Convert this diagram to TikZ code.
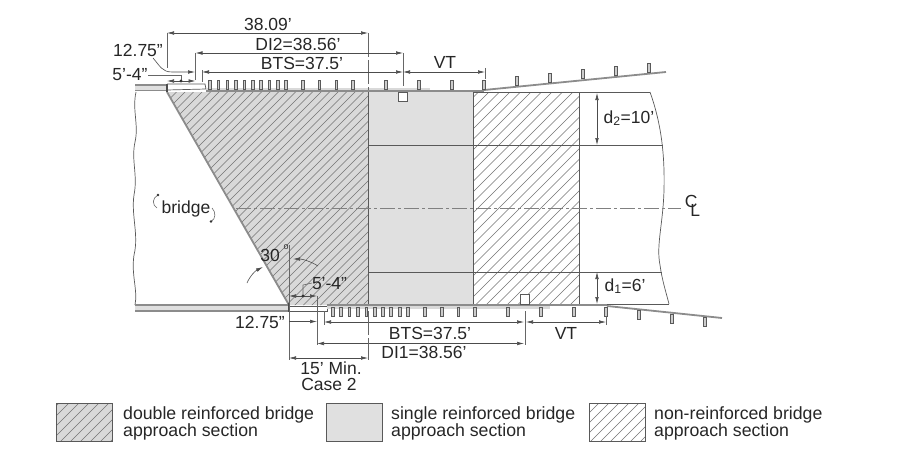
\documentclass[tikz,border=0pt]{standalone}
\usepackage{fontspec}
\setmainfont{Liberation Sans}
\usepackage{tikz}
\usetikzlibrary{arrows.meta}
\definecolor{linegray}{gray}{0.35}
\definecolor{hatchgray}{gray}{0.45}
\definecolor{doublefill}{gray}{0.85}
\definecolor{singlefill}{gray}{0.88}
\tikzset{
    outline/.style={draw=linegray, line width=0.9pt},
    thinline/.style={draw=linegray, line width=0.7pt},
    beamline/.style={draw=gray!90, line width=1.8pt},
    hatchline/.style={draw=hatchgray, line width=0.6pt},
    dimline/.style={{Latex[length=7pt,width=3.6pt]}-{Latex[length=7pt,width=3.6pt]}, draw=black!70, line width=0.6pt},
    dimend/.style={-{Latex[length=7pt,width=3.6pt]}, draw=black!70, line width=0.6pt},
    extline/.style={draw=black!60, line width=0.6pt},
    centerline/.style={draw=black!50, line width=0.6pt, dash pattern=on 15pt off 3pt on 3pt off 3pt},
    post/.style={draw=black!65, fill=gray!40, line width=0.6pt, minimum width=2.6pt, minimum height=9pt, inner sep=0pt},
    dimtext/.style={font=\fontsize{17.5}{17}\selectfont, text=black!85, inner sep=0pt},
    legendtext/.style={dimtext, align=left, anchor=west, font=\fontsize{17.7}{17}\selectfont}
}
\begin{document}
\begin{tikzpicture}[x=1pt,y=-1pt]
    \useasboundingbox (0,0) rectangle (915,452);
    % reinforced sections
    \fill[doublefill] (167,92) -- (368,92) -- (368,305) -- (289,305) -- cycle;
    \begin{scope}
      \clip (167,92) -- (368,92) -- (368,305) -- (289,305) -- cycle;
      \foreach \c in {260,268.5,...,680} \draw[hatchline] (\c,0) -- (0,\c);
    \end{scope}
    \fill[singlefill] (368,92) rectangle (473,305);
    \begin{scope}
      \clip (473,92) rectangle (579,305);
      \foreach \c in {560,570.5,...,890} \draw[hatchline] (\c,0) -- (0,\c);
    \end{scope}
    \draw[beamline] (167,92) -- (289,305);
    \draw[thinline] (368,92) -- (368,305);
    \draw[thinline] (473,92) -- (473,305);
    \draw[thinline] (579,92) -- (579,305);
    \draw[thinline] (368,145) -- (663,145);
    \draw[thinline] (368,272) -- (662,272);
    \draw[thinline] (473,92) -- (650,92);
    \draw[thinline] (473,304) -- (669,304);
    % cut lines
    \draw[thinline] (650,92) .. controls (660,120) and (665,150) .. (664,190) .. controls (663,225) and (656,245) .. (660,265) .. controls (662,280) and (666,292) .. (669,304);
    \draw[thinline] (136,92) .. controls (132,110) and (139,125) .. (135,142) .. controls (131,160) and (138,175) .. (134,195) .. controls (131,215) and (139,235) .. (134,255) .. controls (131,275) and (138,290) .. (135,305);
    \draw[centerline] (236,208) -- (681,208);
    \draw (692.5,206) node[dimtext] (centerlabel) {C\kern-0.42em\raisebox{-0.5em}{L}};
    % top barrier
    \fill[gray!25] (135,85) rectangle (167,91);
    \draw[beamline] (135,85) -- (167,85);
    \draw[beamline] (135,90.5) -- (167,90.5);
    \draw[line width=2pt, draw=black!70] (167,84) -- (167,92);
    \draw[thinline] (167,84) -- (205,84) -- (206,89) -- (167,90);
    \fill[gray!30] (206,88) rectangle (430,92);
    \draw[beamline] (206,91) -- (484,91);
    \draw[beamline] (484,90) -- (666,72);
    \foreach \x in {210,218.3,227.3,235.7,244.3,252.7,261,269.3,277.7,286,302.7,319.3,336.3,353,386,419,452,484}
      \node[post] at (\x,84.5) {};
    \foreach \x/\y in {517/81,550/77.5,583/74,616/71,649/67.5}
      \node[post] at (\x,\y) {};
    \draw[thinline, fill=white] (398,92.5) rectangle (407,101);
    % bottom barrier
    \fill[gray!25] (135,305) rectangle (289,311);
    \draw[beamline] (135,305) -- (289,305);
    \draw[beamline, line width=1.2pt] (135,311) -- (289,311);
    \draw[line width=2pt, draw=black!70] (289,303) -- (289,312);
    \draw[thinline] (289,306) -- (327,306) -- (327,311) -- (289,311);
    \fill[gray!30] (327,306) rectangle (550,309);
    \draw[beamline] (327,305) -- (607,305);
    \draw[beamline] (607,306) -- (722,318);
    \foreach \x in {332.7,341,349.3,358,366.3,374.7,383,391,400,408,425,441.7,458.3,475,507.7,540.7,574,606}
      \node[post] at (\x,311.5) {};
    \foreach \x/\y in {639/315,672/318.5,705/321.5}
      \node[post] at (\x,\y) {};
    \draw[thinline, fill=white] (520,294) rectangle (529,304);
    % top dimensions
    \draw[dimline] (167,33) -- (368,33);
    \draw[extline] (167,33) -- (167,68);
    \draw[extline, dash pattern=on 24pt off 3pt] (368,33) -- (368,90);
    \draw (268,24.5) node[dimtext] (topspan) {38.09'};
    \draw[dimline] (195.5,53) -- (403,53);
    \draw[extline] (195.5,53) -- (195.5,80);
    \draw[extline] (403,53) -- (403,86);
    \draw (298,44) node[dimtext] (ditwo) {DI2=38.56'};
    \draw[dimline] (202,72) -- (403,72);
    \draw[extline] (202,70) -- (202,82);
    \draw (302,63) node[dimtext] (btstop) {BTS=37.5'};
    \draw[dimline] (403,72) -- (485,72);
    \draw[extline] (485,68) -- (485,79);
    \draw (445,62) node[dimtext] (vttop) {VT};
    \draw (138,50.5) node[dimtext] (tiptop) {12.75''};
    \draw[dimend] (153,58) .. controls (160,66) and (162,72) .. (172,72) -- (195,72);
    \draw (130,75) node[dimtext] (slabtop) {5'-4''};
    \draw[extline] (148,75.5) -- (181,75.5) -- (181,81);
    \draw[dimline] (167,81) -- (195.5,81);
    \fill[black!80] (181,81) circle (1.6pt);
    % skew angle
    \draw[extline] (289,245) -- (289,360);
    \draw (270,255) node[dimtext] (skewlabel) {30};
    \draw (286,247) node[font=\fontsize{9}{9}\selectfont, text=black!80, inner sep=0pt] (skewdeg) {o};
    \draw[dimend] (318,266) .. controls (310,261) and (302,259) .. (293,259);
    \draw[dimend] (247,283) .. controls (250,276) and (255,271) .. (263,267);
    % bottom dimensions
    \draw (329.5,284) node[dimtext] (slabbot) {5'-4''};
    \draw[extline] (312,283) -- (303,285) -- (303,296);
    \draw[dimline] (289,296) -- (317,296);
    \fill[black!80] (303,296) circle (1.6pt);
    \draw (260,322) node[dimtext] (tipbot) {12.75''};
    \draw[dimend] (289,321.5) -- (317,321.5);
    \draw[extline] (317,296) -- (317,345);
    \draw[dimline] (324,322) -- (524,322);
    \draw[extline] (324,311) -- (324,325);
    \draw[extline] (525,311) -- (525,345);
    \draw (430,333) node[dimtext] (btsbot) {BTS=37.5'};
    \draw[dimline] (317,343.5) -- (524,343.5);
    \draw (424,352) node[dimtext] (dione) {DI1=38.56'};
    \draw[dimline] (526,322) -- (606,322);
    \draw[extline] (606,316) -- (606,325);
    \draw (566,333) node[dimtext] (vtbot) {VT};
    \draw[dimline] (289,358) -- (368,358);
    \draw[extline, dash pattern=on 24pt off 3pt] (368,311) -- (368,360);
    \draw (331,368) node[dimtext] (minlabel) {15' Min.};
    \draw (329,384.5) node[dimtext] (caselabel) {Case 2};
    % deck widths
    \draw[dimline] (597,93) -- (597,145);
    \draw (629,118) node[dimtext] (dtwo) {d\textsubscript{2}=10'};
    \draw[dimline] (597,272) -- (597,304);
    \draw (625,286) node[dimtext] (done) {d\textsubscript{1}=6'};
    % bridge label
    \draw (186,209) node[dimtext] (bridgelabel) {bridge};
    \draw[extline] (158,195) .. controls (152,198) and (152,205) .. (157,208);
    \draw[extline] (211,221.5) .. controls (216,219) and (216,212) .. (212,208);
    \fill[black!80] (158,195) circle (1.4pt);
    \fill[black!80] (211,221.5) circle (1.4pt);
    % legend
    \fill[doublefill] (56,403) rectangle (112,441);
    \begin{scope}
      \clip (56,403) rectangle (112,441);
      \foreach \c in {462,472,...,560} \draw[hatchline] (\c,0) -- (0,\c);
    \end{scope}
    \draw[thinline] (56,403) rectangle (112,441);
    \draw[thinline, fill=singlefill] (326,403) rectangle (382,441);
    \begin{scope}
      \clip (589,403) rectangle (645,441);
      \foreach \c in {992,1002,...,1090} \draw[hatchline] (\c,0) -- (0,\c);
    \end{scope}
    \draw[thinline] (589,403) rectangle (645,441);
    \draw (123,423.5) node[legendtext] (legenddouble) {double reinforced bridge\\approach section};
    \draw (391,423.5) node[legendtext] (legendsingle) {single reinforced bridge\\approach section};
    \draw (654,423.5) node[legendtext] (legendnon) {non-reinforced bridge\\approach section};
\end{tikzpicture}
\end{document}
